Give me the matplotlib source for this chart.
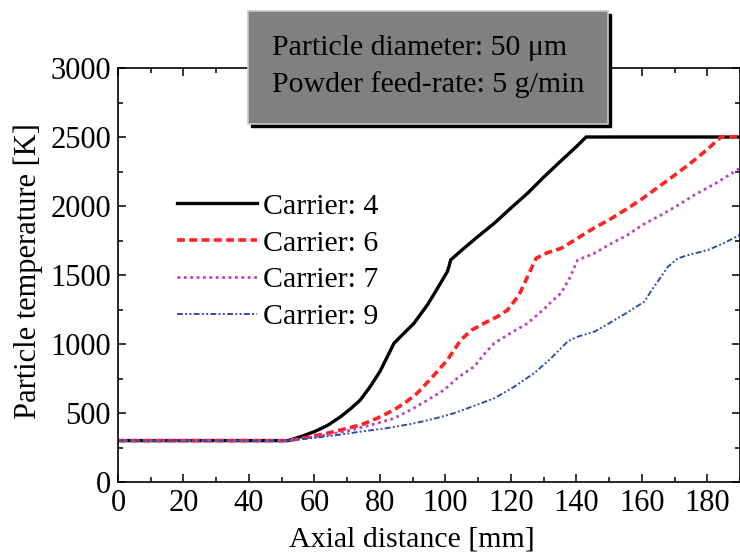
import matplotlib
matplotlib.use("Agg")
import matplotlib.pyplot as plt
from matplotlib.ticker import MultipleLocator
from matplotlib.patches import Rectangle

plt.rcParams['font.family'] = ['Liberation Serif', 'DejaVu Serif']

# Carrier 4
x4 = [0, 52, 56, 60, 64, 68, 71, 74, 77, 80, 84.3, 87, 90.4, 94.5, 97, 100.6, 101.2, 101.6, 105, 110, 114.9, 120, 125, 130.2, 135, 140, 143, 150, 160, 170, 180, 190]
y4 = [300, 300, 330, 365, 410, 473, 530, 594, 690, 800, 1005, 1070, 1150, 1283, 1380, 1524, 1570, 1609, 1680, 1780, 1874, 1985, 2090, 2213, 2320, 2430, 2500, 2500, 2500, 2500, 2500, 2500]
# Carrier 6
x6 = [0, 52, 58, 63.9, 69, 74.1, 79, 84.3, 88, 91.4, 96, 100.6, 104.7, 108, 111.8, 116, 119, 122.5, 125.1, 127.7, 131, 135.3, 140, 143.5, 150, 155.7, 160, 165.9, 171, 176.1, 180, 184.3, 190]
y6 = [300, 300, 325, 353, 383, 413, 460, 522, 580, 643, 760, 884, 1029, 1100, 1150, 1200, 1246, 1355, 1488, 1621, 1660, 1693, 1760, 1814, 1900, 1983, 2050, 2152, 2240, 2333, 2410, 2502, 2502]
# Carrier 7
x7 = [0, 52, 58, 63.9, 70, 76, 84.3, 90, 95, 99.6, 104, 108.8, 112, 114.9, 120, 125.1, 130, 133, 135.3, 138, 140.4, 145.5, 150, 155.7, 160, 165.9, 171, 176.1, 183, 189.9]
y7 = [300, 300, 320, 341, 370, 405, 461, 530, 600, 667, 760, 836, 930, 1005, 1080, 1150, 1250, 1320, 1367, 1480, 1609, 1657, 1720, 1790, 1860, 1935, 2005, 2080, 2170, 2273]
# Carrier 9
x9 = [0, 52, 60, 67, 74.1, 82, 89.4, 96, 102.6, 108, 114.9, 121, 127.1, 132, 137.3, 140, 145.5, 150, 155, 160.8, 163, 165.9, 168, 171, 175, 180.2, 185, 189.9]
y9 = [300, 300, 320, 340, 365, 390, 420, 455, 498, 545, 606, 690, 788, 890, 1017, 1050, 1089, 1150, 1220, 1307, 1390, 1488, 1560, 1621, 1650, 1681, 1730, 1790]

labels = ["Carrier: 4", "Carrier: 6", "Carrier: 7", "Carrier: 9"]

fig = plt.figure(figsize=(7.40, 5.57), dpi=100)
ax = fig.add_axes([118/740, 1-482/557, 1-118/740, (482-68)/557])

ax.plot(x4, y4, color='black', lw=2.4, ls='-', label=labels[0])
ax.plot(x6, y6, color='#ff2222', lw=2.6, ls=(0, (2.2, 1.2)), label=labels[1])
ax.plot(x7, y7, color='#bb44bb', lw=2.0, ls=(0, (1, 1.3)), label=labels[2])
ax.plot(x9, y9, color='#2f4fb0', lw=1.4, ls=(0, (3, 1.2, 1, 1.2, 1, 1.2)), label=labels[3])

ax.set_xlim(0, 190)
ax.set_ylim(0, 3000)
ax.xaxis.set_major_locator(MultipleLocator(20))
ax.xaxis.set_minor_locator(MultipleLocator(10))
ax.yaxis.set_major_locator(MultipleLocator(500))
ax.yaxis.set_minor_locator(MultipleLocator(250))
ax.tick_params(which='both', direction='in', top=True, right=True, labelsize=22, width=1.1)
ax.tick_params(which='major', length=6)
ax.tick_params(which='minor', length=3.5)
ax.tick_params(axis='x', pad=5)
ax.tick_params(axis='y', pad=5)
for s in ax.spines.values():
    s.set_linewidth(1.2)

ax.set_xlabel("Axial distance [mm]", fontsize=21.5, labelpad=3)
ax.set_ylabel("Particle temperature [K]", fontsize=22, labelpad=5)
ax.xaxis.set_label_coords(0.472, -0.108)
ax.yaxis.label.set_y(0.51)

leg = ax.legend(loc='upper left', bbox_to_anchor=(0.075, 0.727), frameon=False,
                fontsize=21.5, handlelength=2.7, handletextpad=0.2, labelspacing=0.33,
                borderaxespad=0)

# annotation box with shadow
bx0, by0, bw, bh = 248/740, 1-124/557, (608-248)/740, (124-11)/557
shadow = Rectangle((bx0+3/740, by0-3/557), bw, bh, transform=fig.transFigure,
                   facecolor='black', edgecolor='black', zorder=10)
box = Rectangle((bx0, by0), bw, bh, transform=fig.transFigure,
                facecolor='#808080', edgecolor='#c8c8c8', lw=1.2, zorder=11)
fig.patches.extend([shadow, box])
fig.text(272/740, 1-48/557, "Particle diameter: 50 \u03bcm", fontsize=21.5,
         va='center', ha='left', zorder=12)
fig.text(272/740, 1-85/557, "Powder feed-rate: 5 g/min", fontsize=21.5,
         va='center', ha='left', zorder=12)

fig.savefig("out.png", dpi=100)
